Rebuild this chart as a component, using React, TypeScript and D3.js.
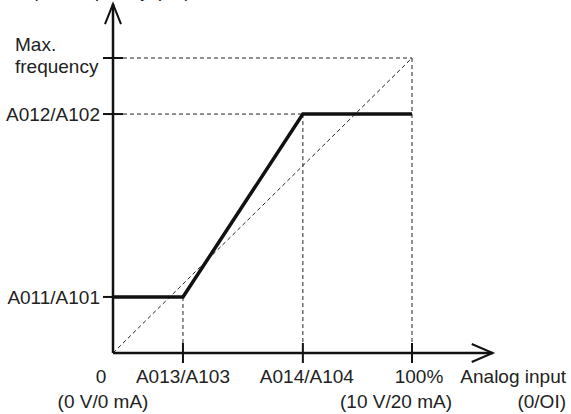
import React from "react";
import * as d3 from "d3";

// Data (x: analog input %, y: output frequency % of max)
const curveX = [0, 23.4, 63.5, 100];
const curveY = [19, 19, 81, 81];
const xTickValues = [23.4, 63.5, 100];
const xTickLabels = ["A013/A103", "A014/A104", "100%"];
const xTickSubLabels = ["", "", "(10 V/20 mA)"];
const yTickValues = [19, 81, 100];
const yTickLabels = ["A011/A101", "A012/A102", "Max.\nfrequency"];

const W = 571;
const H = 414;
const FONT = "'Liberation Sans', Arial, Helvetica, sans-serif";
const FS = 19;

export default function App() {
  const x = d3.scaleLinear().domain([0, 100]).range([113, 412]);
  const y = d3.scaleLinear().domain([0, 100]).range([353, 58]);
  const x0 = x(0);
  const y0 = y(0);
  const xEnd = x(127);
  const yEnd = y(118.3);

  const line = d3
    .line<number>()
    .x((_, i) => x(curveX[i]))
    .y((d) => y(d));

  const dash = "4 3";
  const thin = 1;
  const xLabelOffset = [0, 4, 7];
  const xSubOffset = [0, 0, -16];

  return (
    <svg
      width={W}
      height={H}
      style={{ position: "absolute", left: 0, top: 0, background: "#fff" }}
      fontFamily={FONT}
      fontSize={FS}
    >
      {/* title, clipped at the top edge as in the reference */}
      <text x={4} y={-3} fill="#222">Output frequency (Hz)</text>

      {/* dashed guides */}
      <line x1={x0} y1={y0} x2={x(100)} y2={y(100)} stroke="#222" strokeWidth={thin} strokeDasharray={dash} />
      <line x1={x0 + 10} y1={y(100)} x2={x(100)} y2={y(100)} stroke="#222" strokeWidth={thin} strokeDasharray={dash} />
      <line x1={x0 + 10} y1={y(81)} x2={x(63.5)} y2={y(81)} stroke="#222" strokeWidth={thin} strokeDasharray={dash} />
      <line x1={x(100)} y1={y(100)} x2={x(100)} y2={y0 - 10} stroke="#222" strokeWidth={thin} strokeDasharray={dash} />
      <line x1={x(63.5)} y1={y(81)} x2={x(63.5)} y2={y0 - 10} stroke="#222" strokeWidth={thin} strokeDasharray={dash} />
      <line x1={x(23.4)} y1={y(19)} x2={x(23.4)} y2={y0 - 10} stroke="#222" strokeWidth={thin} strokeDasharray={dash} />

      {/* axes */}
      <line x1={x0} y1={y0} x2={xEnd} y2={y0} stroke="#111" strokeWidth={2.5} />
      <line x1={x0} y1={y0} x2={x0} y2={yEnd} stroke="#111" strokeWidth={2.5} />
      <polyline
        points={`${xEnd - 21},${y0 - 9} ${xEnd},${y0} ${xEnd - 21},${y0 + 9}`}
        fill="none"
        stroke="#111"
        strokeWidth={2}
      />
      <polyline
        points={`${x0 - 8},${yEnd + 20} ${x0},${yEnd} ${x0 + 8},${yEnd + 20}`}
        fill="none"
        stroke="#111"
        strokeWidth={2}
      />

      {/* x ticks */}
      {xTickValues.map((v, i) => (
        <g key={"xt" + i}>
          <line x1={x(v)} y1={y0 - 10} x2={x(v)} y2={y0 + 10} stroke="#111" strokeWidth={2} />
          <text x={x(v) + xLabelOffset[i]} y={383} textAnchor="middle" fill="#222">
            {xTickLabels[i]}
          </text>
          {xTickSubLabels[i] && (
            <text x={x(v) + xSubOffset[i]} y={408} textAnchor="middle" fill="#222">
              {xTickSubLabels[i]}
            </text>
          )}
        </g>
      ))}
      <text x={x0 - 12} y={383} textAnchor="middle" fill="#222">0</text>
      <text x={x0 - 10} y={408} textAnchor="middle" fill="#222">(0 V/0 mA)</text>
      <text x={566} y={383} textAnchor="end" fill="#222">Analog input</text>
      <text x={566} y={408} textAnchor="end" fill="#222">(0/OI)</text>

      {/* y ticks */}
      {yTickValues.map((v, i) => (
        <g key={"yt" + i}>
          <line x1={x0 - 10} y1={y(v)} x2={x0 + 10} y2={y(v)} stroke="#111" strokeWidth={2} />
          {i < 2 ? (
            <text x={x0 - 13} y={y(v) + 7} textAnchor="end" fill="#222">
              {yTickLabels[i]}
            </text>
          ) : (
            <text x={15} y={51} fill="#222">
              {yTickLabels[i].split("\n").map((s, k) => (
                <tspan key={k} x={15} dy={k === 0 ? 0 : 22}>
                  {s}
                </tspan>
              ))}
            </text>
          )}
        </g>
      ))}

      {/* characteristic curve */}
      <path d={line(curveY) || ""} fill="none" stroke="#111" strokeWidth={3.5} strokeLinejoin="miter" />
    </svg>
  );
}
